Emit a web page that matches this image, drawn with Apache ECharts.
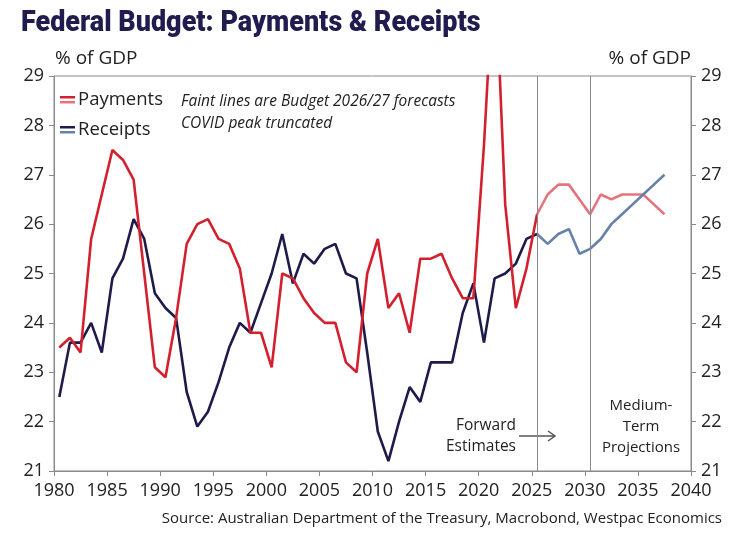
<!DOCTYPE html>
<html>
<head>
<meta charset="utf-8">
<script src="https://cdn.jsdelivr.net/npm/echarts@6/dist/echarts.min.js"></script>
<style>
  html, body { margin: 0; padding: 0; background: #fff; }
  #chart { width: 738px; height: 533px; }
</style>
</head>
<body>
<div id="chart"></div>
<script>
// fiscal years, plotted at mid-year
const fiscalYears = Array.from({ length: 58 }, (_, i) => 1980 + i);

// % of GDP, actuals 1980-2025
const paymentsActual = [
  23.5, 23.7, 23.4, 25.7, 26.6, 27.5, 27.3, 26.9, 25.0, 23.1,
  22.9, 24.1, 25.6, 26.0, 26.1, 25.7, 25.6, 25.1, 23.8, 23.8,
  23.1, 25.0, 24.9, 24.5, 24.2, 24.0, 24.0, 23.2, 23.0, 25.0,
  25.7, 24.3, 24.6, 23.8, 25.3, 25.3, 25.4, 24.9, 24.5, 24.5,
  27.6, 31.5, 26.4, 24.3, 25.1, 26.2
];
const receiptsActual = [
  22.5, 23.6, 23.6, 24.0, 23.4, 24.9, 25.3, 26.1, 25.7, 24.6,
  24.3, 24.1, 22.6, 21.9, 22.2, 22.8, 23.5, 24.0, 23.8, 24.4,
  25.0, 25.8, 24.8, 25.4, 25.2, 25.5, 25.6, 25.0, 24.9, 23.4,
  21.8, 21.2, 22.0, 22.7, 22.4, 23.2, 23.2, 23.2, 24.2, 24.8,
  23.6, 24.9, 25.0, 25.2, 25.7, 25.8
];

// Budget 2026/27 forecasts, 2025-2037
const paymentsForecast = [26.2, 26.6, 26.8, 26.8, 26.5, 26.2, 26.6, 26.5, 26.6, 26.6, 26.6, 26.4, 26.2];
const receiptsForecast = [25.8, 25.6, 25.8, 25.9, 25.4, 25.5, 25.7, 26.0, 26.2, 26.4, 26.6, 26.8, 27.0];

const yTicks = [21, 22, 23, 24, 25, 26, 27, 28, 29];
const xTicks = [1980, 1985, 1990, 1995, 2000, 2005, 2010, 2015, 2020, 2025, 2030, 2035, 2040];
const dividers = [2025.5, 2030.5];

const RED = '#d3202e';
const RED_FAINT = '#e6737c';
const NAVY = '#1e1b4b';
const BLUE_FAINT = '#6682a8';
const AXIS = '#8a8a8a';
const FONT = 'Open Sans';

function toPoints(values, offset) {
  return values.map((v, i) => [fiscalYears[offset + i] + 0.5, v]);
}

const chart = echarts.init(document.getElementById('chart'), null, { renderer: 'canvas' });

const axisLabel = { fontFamily: FONT, fontSize: 18, color: '#222' };

const option = {
  animation: false,
  grid: {
    left: 54, right: 47, top: 76, bottom: 62,
    show: true, borderColor: AXIS, borderWidth: 1
  },
  xAxis: {
    type: 'value',
    min: xTicks[0], max: xTicks[xTicks.length - 1], interval: 5,
    axisLine: { show: true, lineStyle: { color: AXIS } },
    axisTick: { show: true, inside: false, length: 5, lineStyle: { color: AXIS } },
    axisLabel: Object.assign({ margin: 11, formatter: v => String(v) }, axisLabel),
    splitLine: { show: false }
  },
  yAxis: [
    {
      type: 'value', position: 'left',
      min: yTicks[0], max: yTicks[yTicks.length - 1], interval: 1,
      axisLine: { show: true, lineStyle: { color: AXIS } },
      axisTick: { show: true, length: 5, lineStyle: { color: AXIS } },
      axisLabel: Object.assign({ margin: 10 }, axisLabel),
      splitLine: { show: false }
    },
    {
      type: 'value', position: 'right',
      min: yTicks[0], max: yTicks[yTicks.length - 1], interval: 1,
      axisLine: { show: true, lineStyle: { color: AXIS } },
      axisTick: { show: true, length: 5, lineStyle: { color: AXIS } },
      axisLabel: Object.assign({ margin: 10 }, axisLabel),
      splitLine: { show: false }
    }
  ],
  series: [
    {
      name: 'Payments forecast', type: 'line', showSymbol: false, clip: true,
      data: toPoints(paymentsForecast, 45),
      lineStyle: { color: RED_FAINT, width: 2.6 },
      markLine: {
        silent: true, symbol: 'none', label: { show: false },
        lineStyle: { color: AXIS, width: 1, type: 'solid' },
        data: dividers.map(d => ({ xAxis: d }))
      }
    },
    {
      name: 'Receipts forecast', type: 'line', showSymbol: false, clip: true,
      data: toPoints(receiptsForecast, 45),
      lineStyle: { color: BLUE_FAINT, width: 2.6 }
    },
    {
      name: 'Receipts', type: 'line', showSymbol: false, clip: true,
      data: toPoints(receiptsActual, 0),
      lineStyle: { color: NAVY, width: 2.6 }
    },
    {
      name: 'Payments', type: 'line', showSymbol: false, clip: true,
      data: toPoints(paymentsActual, 0),
      lineStyle: { color: RED, width: 2.6 }
    }
  ],
  graphic: [
    {
      type: 'text', left: 21, top: 9, scaleX: 0.93,
      style: {
        text: 'Federal Budget: Payments & Receipts',
        font: '900 29px Roboto', fill: '#201c50'
      }
    },
    { type: 'text', x: 55, y: 59, style: { text: '% of GDP', font: '19px "Open Sans"', fill: '#222', verticalAlign: 'middle' } },
    { type: 'text', x: 691, y: 59, style: { text: '% of GDP', font: '19px "Open Sans"', fill: '#222', align: 'right', verticalAlign: 'middle' } },
    // legend
    { type: 'rect', shape: { x: 60, y: 96, width: 15, height: 2.5 }, style: { fill: RED } },
    { type: 'rect', shape: { x: 60, y: 101, width: 15, height: 2.5 }, style: { fill: RED_FAINT } },
    { type: 'text', x: 78, y: 100, style: { text: 'Payments', font: '18.5px "Open Sans"', fill: '#222', verticalAlign: 'middle' } },
    { type: 'rect', shape: { x: 60, y: 126, width: 15, height: 2.5 }, style: { fill: NAVY } },
    { type: 'rect', shape: { x: 60, y: 131, width: 15, height: 2.5 }, style: { fill: BLUE_FAINT } },
    { type: 'text', x: 78, y: 130, style: { text: 'Receipts', font: '18.5px "Open Sans"', fill: '#222', verticalAlign: 'middle' } },
    // notes
    { type: 'text', x: 181, y: 102, style: { text: 'Faint lines are Budget 2026/27 forecasts', font: 'italic 15.5px "Open Sans"', fill: '#222', verticalAlign: 'middle' } },
    { type: 'text', x: 181, y: 124, style: { text: 'COVID peak truncated', font: 'italic 15.5px "Open Sans"', fill: '#222', verticalAlign: 'middle' } },
    { type: 'text', x: 516, y: 426, style: { text: 'Forward', font: '15.5px "Open Sans"', fill: '#222', align: 'right', verticalAlign: 'middle' } },
    { type: 'text', x: 516, y: 447, style: { text: 'Estimates', font: '15.5px "Open Sans"', fill: '#222', align: 'right', verticalAlign: 'middle' } },
    { type: 'line', shape: { x1: 519, y1: 436, x2: 555, y2: 436 }, style: { stroke: '#555', lineWidth: 1.5 } },
    { type: 'polyline', shape: { points: [[548, 431], [555, 436], [548, 441]] }, style: { stroke: '#555', lineWidth: 1.5, fill: null } },
    { type: 'text', x: 641, y: 406, style: { text: 'Medium-', font: '15px "Open Sans"', fill: '#222', align: 'center', verticalAlign: 'middle' } },
    { type: 'text', x: 641, y: 427, style: { text: 'Term', font: '15px "Open Sans"', fill: '#222', align: 'center', verticalAlign: 'middle' } },
    { type: 'text', x: 641, y: 448, style: { text: 'Projections', font: '15px "Open Sans"', fill: '#222', align: 'center', verticalAlign: 'middle' } },
    { type: 'text', x: 722, y: 519, style: { text: 'Source: Australian Department of the Treasury, Macrobond, Westpac Economics', font: '15px "Open Sans"', fill: '#222', align: 'right', verticalAlign: 'middle' } }
  ]
};

chart.setOption(option);
</script>
</body>
</html>
